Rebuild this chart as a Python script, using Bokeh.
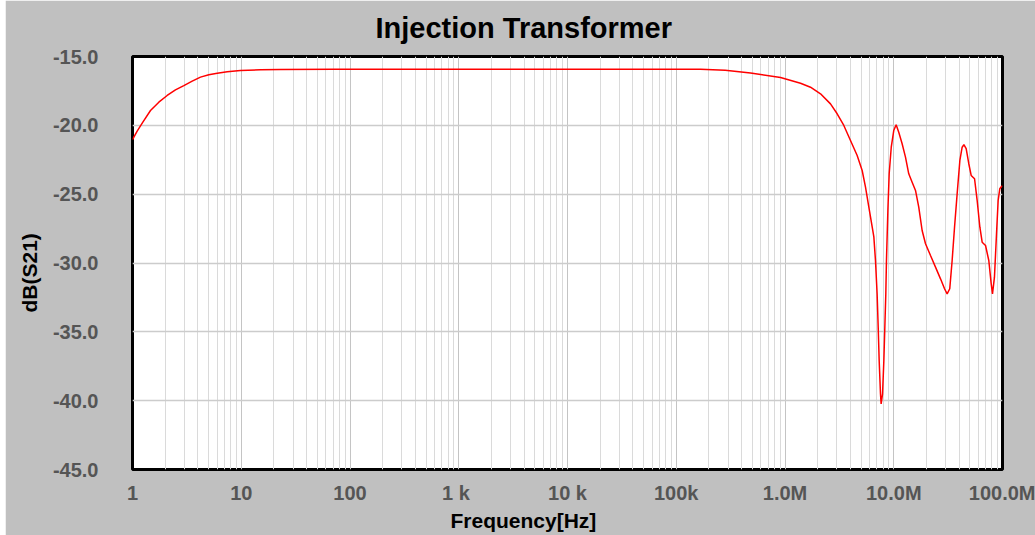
from bokeh.plotting import figure
from bokeh.models import FixedTicker, Title, ColumnDataSource, Range1d
from bokeh.embed import file_html
from bokeh.resources import INLINE

# ---- data ----
freq_hz = [
    1.0, 1.104, 1.245, 1.464, 1.746, 2.084, 2.483, 2.965, 3.54, 4.217, 5.035,
    6.012, 7.43, 9.84, 15.03, 22.96, 70.8, 1e3, 1e4, 1e5, 1.67e5, 2.82e5,
    4.82e5, 9.1e5, 1.389e6, 1.716e6, 2.121e6, 2.62e6, 3.018e6, 3.475e6,
    4.002e6, 4.609e6, 5.124e6, 5.499e6, 5.902e6, 6.339e6, 6.561e6, 6.792e6,
    7.031e6, 7.194e6, 7.345e6, 7.551e6, 7.656e6, 7.889e6, 8.11e6, 8.279e6,
    8.453e6, 8.57e6, 8.831e6, 9.078e6, 9.484e6, 1.0e7, 1.052e7, 1.112e7,
    1.194e7, 1.282e7, 1.374e7, 1.476e7, 1.585e7, 1.698e7, 1.824e7, 1.959e7,
    2.178e7, 2.421e7, 2.692e7, 2.931e7, 3.097e7, 3.273e7, 3.443e7, 3.622e7,
    3.828e7, 4.055e7, 4.256e7, 4.416e7, 4.634e7, 4.898e7, 5.152e7, 5.534e7,
    5.848e7, 6.194e7, 6.501e7, 6.982e7, 7.482e7, 7.87e7, 8.091e7, 8.433e7,
    8.81e7, 9.12e7, 9.441e7, 9.795e7, 1.0e8,
]
s21_db = [
    -21.03, -20.42, -19.77, -18.92, -18.32, -17.83, -17.42, -17.11, -16.79,
    -16.5, -16.33, -16.21, -16.11, -16.02, -15.97, -15.94, -15.92, -15.92,
    -15.92, -15.92, -15.93, -16.0, -16.2, -16.53, -16.94, -17.23, -17.71,
    -18.44, -19.16, -20.01, -21.1, -22.19, -23.28, -24.49, -25.94, -27.4,
    -28.1, -29.82, -32.24, -34.66, -37.08, -39.5, -40.23, -39.5, -37.08,
    -34.66, -32.24, -29.82, -26.19, -23.52, -21.59, -20.38, -19.96, -20.5,
    -21.34, -22.31, -23.52, -24.13, -24.73, -25.94, -27.64, -28.6, -29.46,
    -30.3, -31.15, -31.87, -32.24, -31.87, -29.82, -27.4, -24.97, -22.55,
    -21.59, -21.41, -21.7, -22.79, -23.64, -23.88, -25.46, -27.4, -28.49,
    -28.73, -29.82, -31.5, -32.24, -31.03, -27.88, -25.46, -24.61, -24.44,
    -24.4,
]

x_ticks = [1, 10, 100, 1000, 10000, 100000, 1000000, 10000000, 100000000]
x_tick_labels = ["1", "10", "100", "1  k", "10 k", "100k", "1.0M", "10.0M", "100.0M"]
y_ticks = [-45, -40, -35, -30, -25, -20, -15]
y_tick_labels = ["-45.0", "-40.0", "-35.0", "-30.0", "-25.0", "-20.0", "-15.0"]

title_text = "Injection Transformer"
x_label = "Frequency[Hz]"
y_label = "dB(S21)"

FONT = "Liberation Sans"

x_minor = [m * d for d in x_ticks[:-1] for m in range(2, 10)]

p = figure(
    width=1030, height=535, margin=(0, 0, 0, 5),
    x_axis_type="log",
    x_range=Range1d(1, 1e8), y_range=Range1d(-45, -15),
    output_backend="svg", toolbar_location=None,
    min_border_left=127, min_border_right=33,
    min_border_top=56, min_border_bottom=66,
    background_fill_color="white", border_fill_color="#c0c0c0",
    outline_line_color="black", outline_line_width=3,
)

# title
p.title.text = title_text
p.title.text_font = FONT
p.title.text_font_size = "29px"
p.title.text_font_style = "bold"
p.title.text_color = "black"
p.title.align = "left"
p.title.offset = 243
p.title.vertical_align = "top"
p.title.standoff = 22

# axes
for ax in (p.xaxis[0], p.yaxis[0]):
    ax.axis_line_color = None
    ax.major_tick_line_color = None
    ax.minor_tick_line_color = None
    ax.major_label_text_font = FONT
    ax.major_label_text_font_style = "bold"
    ax.major_label_text_font_size = "20px"
    ax.major_label_text_color = "#555555"

p.xaxis.ticker = FixedTicker(ticks=x_ticks, minor_ticks=x_minor)
p.xaxis.major_label_overrides = dict(zip(x_ticks, x_tick_labels))
p.xaxis.major_label_standoff = 6

p.yaxis.ticker = FixedTicker(ticks=y_ticks)
p.yaxis.major_label_overrides = dict(zip(y_ticks, y_tick_labels))
p.yaxis.major_label_standoff = 28

# grids
p.xgrid.grid_line_color = "#c4c4c4"
p.xgrid.grid_line_width = 1
p.xgrid.minor_grid_line_color = "#dadada"
p.xgrid.minor_grid_line_width = 1
p.ygrid.grid_line_color = "#cccccc"
p.ygrid.grid_line_width = 1.5

# axis labels as titles so they can be positioned like the reference
p.add_layout(Title(text=x_label, text_font=FONT, text_font_size="21px",
                   text_font_style="bold", text_color="black",
                   align="left", offset=318, standoff=0), "below")
p.add_layout(Title(text=y_label, text_font=FONT, text_font_size="21px",
                   text_font_style="bold", text_color="black",
                   align="left", offset=157, standoff=17), "left")

src = ColumnDataSource(dict(f=freq_hz, db=s21_db))
p.line("f", "db", source=src, line_color="#ff0000", line_width=1.5)

open("out.html", "w").write(file_html(p, INLINE))
